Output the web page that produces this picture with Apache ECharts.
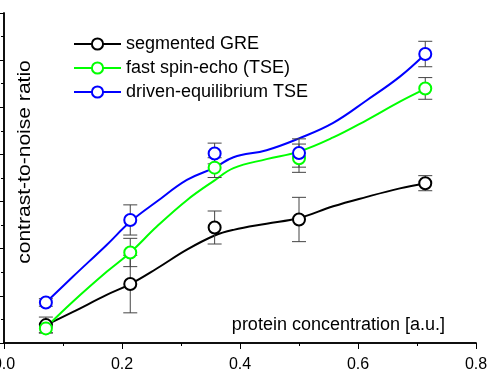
<!DOCTYPE html>
<html>
<head>
<meta charset="utf-8">
<script src="https://cdn.jsdelivr.net/npm/echarts@6/dist/echarts.min.js"></script>
<style>
  html, body { margin: 0; padding: 0; background: #fff; }
  #chart { width: 502px; height: 374px; }
</style>
</head>
<body>
<div id="chart"></div>
<script>
const font = 'Liberation Sans, Arial, sans-serif'
const names = ['segmented GRE', 'fast spin-echo (TSE)', 'driven-equilibrium TSE']
const colors = ['#000000', '#00ff00', '#0000ff']

// measured points (x = protein concentration)
const conc = [0.071, 0.214, 0.357, 0.5, 0.714]
const greCnr = [0.38, 1.25, 2.45, 2.62, 3.39]
const greErr = [0.17, 0.61, 0.35, 0.47, 0.16]
const tseCnr = [0.31, 1.92, 3.72, 3.92, 5.40]
const tseErr = [0.09, 0.30, 0.21, 0.30, 0.23]
const detseCnr = [0.86, 2.61, 4.02, 4.03, 6.13]
const detseErr = [0.08, 0.32, 0.22, 0.30, 0.27]

// fitted curves
const fitConc = [0.071, 0.117, 0.174, 0.214, 0.259, 0.31, 0.357, 0.389, 0.445, 0.5, 0.558, 0.615, 0.671, 0.714]
const greFit = [0.38, 0.66, 1.02, 1.25, 1.58, 1.98, 2.28, 2.40, 2.53, 2.65, 2.90, 3.10, 3.28, 3.39]
const tseFit = [0.33, 0.88, 1.51, 1.92, 2.47, 3.03, 3.45, 3.71, 3.90, 4.06, 4.36, 4.73, 5.12, 5.39]
const detseFit = [0.86, 1.41, 2.08, 2.57, 3.00, 3.46, 3.72, 3.94, 4.09, 4.34, 4.67, 5.15, 5.65, 6.13]

const xName = 'protein concentration [a.u.]'
const yName = 'contrast-to-noise ratio'

const groups = [
  { cnr: greCnr, err: greErr, fit: greFit },
  { cnr: tseCnr, err: tseErr, fit: tseFit },
  { cnr: detseCnr, err: detseErr, fit: detseFit }
]

const errorBarItem = function (params, api) {
  const x = api.value(0)
  const top = api.coord([x, api.value(2)])
  const bottom = api.coord([x, api.value(1)])
  const w = 7
  const style = { stroke: '#444', lineWidth: 1 }
  return {
    type: 'group',
    children: [
      { type: 'line', shape: { x1: top[0], y1: top[1], x2: bottom[0], y2: bottom[1] }, style },
      { type: 'line', shape: { x1: top[0] - w, y1: top[1], x2: top[0] + w, y2: top[1] }, style },
      { type: 'line', shape: { x1: bottom[0] - w, y1: bottom[1], x2: bottom[0] + w, y2: bottom[1] }, style }
    ]
  }
}

const series = []
groups.forEach((g, i) => {
  series.push({
    name: names[i],
    type: 'line',
    smooth: 0.4,
    symbol: 'emptyCircle',
    showSymbol: false,
    data: fitConc.map((x, j) => [x, g.fit[j]]),
    lineStyle: { color: colors[i], width: 2 },
    itemStyle: { color: colors[i] },
    z: 2
  })
  series.push({
    type: 'custom',
    renderItem: errorBarItem,
    data: conc.map((x, j) => [x, g.cnr[j] - g.err[j], g.cnr[j] + g.err[j]]),
    encode: { x: 0, y: [1, 2] },
    z: 3
  })
  series.push({
    name: names[i],
    type: 'scatter',
    symbol: 'emptyCircle',
    symbolSize: 12,
    data: conc.map((x, j) => [x, g.cnr[j]]),
    itemStyle: { color: colors[i], borderColor: colors[i], borderWidth: 1.2, opacity: 1 },
    z: 4
  })
})

const frame = { show: true, lineStyle: { color: '#000', width: 1.5 } }

const chartOptions = {
  animation: false,
  backgroundColor: '#fff',
  grid: { left: 4, right: 26, top: 13, bottom: 31, containLabel: false, outerBoundsMode: 'none' },
  legend: {
    data: names,
    orient: 'vertical',
    left: 73,
    top: 35,
    padding: 0,
    itemWidth: 47,
    itemHeight: 14,
    itemGap: 6,
    selectedMode: false,
    itemStyle: { borderWidth: 1.2 },
    textStyle: { fontFamily: font, fontSize: 18, color: '#000' }
  },
  xAxis: [
    {
      type: 'value', min: 0, max: 0.8, interval: 0.2, position: 'bottom',
      axisLine: frame,
      axisTick: { length: 6, lineStyle: { color: '#000' } },
      minorTick: { show: true, splitNumber: 2, length: 3, lineStyle: { color: '#000' } },
      splitLine: { show: false },
      axisLabel: { margin: 14, fontFamily: font, fontSize: 16, color: '#000', formatter: v => v.toFixed(1) }
    },
    {
      type: 'value', min: 0, max: 0.8, interval: 0.2, position: 'top',
      axisLine: frame,
      axisTick: { inside: true, length: 6, lineStyle: { color: '#000' } },
      minorTick: { show: true, splitNumber: 2, length: 3, lineStyle: { color: '#000' } },
      splitLine: { show: false },
      axisLabel: { show: false }
    }
  ],
  yAxis: [
    {
      type: 'value', min: 0, max: 7, interval: 1, position: 'left',
      axisLine: frame,
      axisTick: { show: true, length: 5, lineStyle: { color: '#000' } },
      minorTick: { show: true, splitNumber: 2, length: 3, lineStyle: { color: '#000' } },
      splitLine: { show: false },
      axisLabel: { show: false }
    },
    {
      type: 'value', min: 0, max: 7, interval: 1, position: 'right',
      axisLine: frame,
      axisTick: { show: true, inside: true, length: 6, lineStyle: { color: '#000' } },
      minorTick: { show: true, splitNumber: 2, length: 3, lineStyle: { color: '#000' } },
      splitLine: { show: false },
      axisLabel: { show: false }
    }
  ],
  graphic: [
    {
      type: 'text', x: 25, y: 162, rotation: Math.PI / 2, scaleX: 1.17,
      style: { text: yName, font: '18px ' + font, fill: '#000', align: 'center', verticalAlign: 'middle' }
    },
    {
      type: 'text', x: 445, y: 325,
      style: { text: xName, font: '18px ' + font, fill: '#000', align: 'right', verticalAlign: 'middle' }
    }
  ],
  series: series
}

const chart = echarts.init(document.getElementById('chart'), null, { renderer: 'canvas' })
chart.setOption(chartOptions)
</script>
</body>
</html>
